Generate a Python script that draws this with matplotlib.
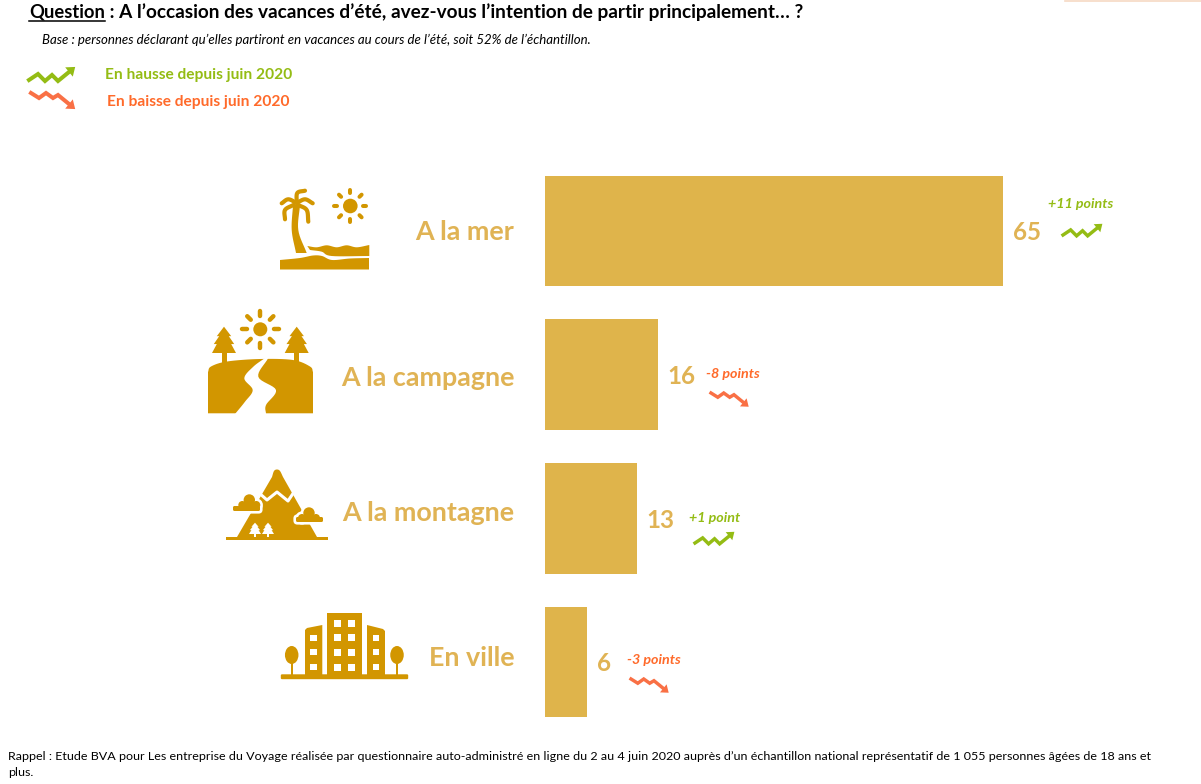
import numpy as np
import matplotlib
matplotlib.use("Agg")
import matplotlib.pyplot as plt
from matplotlib.patches import Polygon, Circle, Ellipse, Rectangle, FancyBboxPatch

# values
categories = ["A la mer", "A la campagne", "A la montagne", "En ville"]
values = [65, 16, 13, 6]
changes = ["+11 points", "-8 points", "+1 point", "-3 points"]
rising = [True, False, True, False]

BAR = "#DFB44B"
ICON = "#D29600"
LABEL = "#E0B354"
GREEN = "#94BC14"
ORANGE = "#FF6A2A"
ARROW_ORANGE = "#F97045"

plt.rcParams["font.family"] = ["Lato", "DejaVu Sans"]

W, H = 1201, 784
fig = plt.figure(figsize=(W / 100, H / 100), dpi=100)

# overlay in pixel coordinates for the text and pictograms
px = fig.add_axes([0, 0, 1, 1])
px.set_xlim(0, W)
px.set_ylim(H, 0)
px.axis("off")

# bars
top, step = 159.2, 143.67
ax = fig.add_axes([545 / W, 1 - (top + 4 * step) / H, (W - 545) / W, 4 * step / H])
ax.barh(range(4), values, height=0.77, color=BAR)
ax.set_xlim(0, (W - 545) / 7.04)
ax.set_ylim(3.5, -0.5)
ax.axis("off")
# the labels do not sit exactly on the bar centres in the original
label_dy = [1, 3, -5, -4]
for i, v in enumerate(values):
    ax.annotate(str(v), (v, i), xytext=(7.2, -1.3), textcoords="offset points",
                va="center", ha="left", fontsize=17.4, fontweight="bold", color=LABEL)
    ax.annotate(categories[i], (0, i), xytext=(-22, -label_dy[i] * 0.72), textcoords="offset points",
                va="center", ha="right", fontsize=19.4, fontweight="bold", color=LABEL,
                annotation_clip=False)


def smooth(pts, n=8, closed=False):
    # catmull-rom through the points, so the pictograms get round outlines
    p = np.array(pts, dtype=float)
    if closed:
        p = np.vstack([p[-1], p, p[0], p[1]])
    else:
        p = np.vstack([2 * p[0] - p[1], p, 2 * p[-1] - p[-2]])
    out = []
    for i in range(1, len(p) - 2):
        for t in np.linspace(0, 1, n, endpoint=False):
            out.append(0.5 * (2 * p[i] + (p[i + 1] - p[i - 1]) * t
                              + (2 * p[i - 1] - 5 * p[i] + 4 * p[i + 1] - p[i + 2]) * t ** 2
                              + (3 * p[i] - p[i - 1] - 3 * p[i + 1] + p[i + 2]) * t ** 3))
    out.append(p[-2])
    return np.array(out)


def zigzag(x, y, up=True, scale=1.0):
    # small trend arrow, x/y = left end of the line
    if up:
        pts = [(0, 0), (9, -6), (16, 1), (23, -5), (29, 1), (40, -8)]
        col = GREEN
    else:
        pts = [(0, 0), (8, 5), (15, 0), (22, 5), (27, 2), (38, 11)]
        col = ARROW_ORANGE
    pts = np.array(pts, dtype=float) * scale + (x, y)
    px.plot(pts[:, 0], pts[:, 1], color=col, lw=2.9 * scale, solid_joinstyle="miter")
    d = pts[-1] - pts[-2]
    d = d / np.hypot(*d)
    n = np.array([-d[1], d[0]])
    s = 7 * scale + 1
    tip = pts[-1] + d * s
    px.add_patch(Polygon([tip, pts[-1] + n * s * 0.75, pts[-1] - n * s * 0.75], color=col, lw=0))


# title block
px.text(29, 12, "Question", fontsize=13.2, fontweight="bold", color="black", va="center")
px.plot([29, 105], [20.5, 20.5], color="black", lw=1.1)
px.text(105, 12, " : A l\u2019occasion des vacances d\u2019\u00e9t\u00e9, avez-vous l\u2019intention de partir principalement\u2026 ?",
        fontsize=13.66, fontweight="bold", color="black", va="center")
px.text(42, 40, "Base : personnes d\u00e9clarant qu\u2019elles partiront en vacances au cours de l\u2019\u00e9t\u00e9, soit 52% de l\u2019\u00e9chantillon.",
        fontsize=9.55, style="italic", color="black", va="center")
px.text(105, 74.5, "En hausse depuis juin 2020", fontsize=11.2, fontweight="bold", color=GREEN, va="center")
px.text(107, 101.5, "En baisse depuis juin 2020", fontsize=11.2, fontweight="bold", color=ORANGE, va="center")
zigzag(29, 80, True, 1.0)
zigzag(31, 93, False, 1.0)

# change notes beside the bars
note_xy = [(1048, 204), (706, 374), (689, 518), (627, 660)]
arrow_xy = [(1063, 235), (711, 393), (695, 543), (631, 679)]
for i in range(4):
    c = GREEN if rising[i] else ORANGE
    px.text(note_xy[i][0], note_xy[i][1], changes[i], fontsize=10.3, fontweight="bold",
            style="italic", color=c, va="center")
    zigzag(arrow_xy[i][0], arrow_xy[i][1], rising[i], 0.85)

# footnote
px.text(8, 757, "Rappel : Etude BVA pour Les entreprise du Voyage r\u00e9alis\u00e9e par questionnaire auto-administr\u00e9 en ligne du 2 au 4 juin 2020 aupr\u00e8s d\u2019un \u00e9chantillon national repr\u00e9sentatif de 1 055 personnes \u00e2g\u00e9es de 18 ans et",
        fontsize=8.97, color="black", va="center")
px.text(8, 773, "plus.", fontsize=8.97, color="black", va="center")

# thin peach line at the top right edge
px.plot([1065, 1201], [0.5, 0.5], color="#F6D9C4", lw=1.2)


def sun(cx, cy, r, r1, r2, lw):
    px.add_patch(Circle((cx, cy), r, color=ICON, lw=0))
    for a in np.arange(8) * np.pi / 4:
        px.plot([cx + r1 * np.cos(a), cx + r2 * np.cos(a)], [cy + r1 * np.sin(a), cy + r2 * np.sin(a)],
                color=ICON, lw=lw, solid_capstyle="round")


def poly(pts, col=ICON):
    px.add_patch(Polygon(pts, closed=True, color=col, lw=0))


def fir(cx, top_y, bottom, half, col=ICON):
    h = bottom - top_y
    poly([(cx, top_y), (cx + half * 0.6, top_y + h * 0.36), (cx + half * 0.4, top_y + h * 0.36),
          (cx + half * 0.85, top_y + h * 0.66), (cx + half * 0.6, top_y + h * 0.66),
          (cx + half, top_y + h), (cx - half, top_y + h), (cx - half * 0.6, top_y + h * 0.66),
          (cx - half * 0.85, top_y + h * 0.66), (cx - half * 0.4, top_y + h * 0.36),
          (cx - half * 0.6, top_y + h * 0.36)], col)


def curve(pts, lw=3.0, col=ICON):
    c = smooth(pts)
    px.plot(c[:, 0], c[:, 1], color=col, lw=lw, solid_capstyle="round", solid_joinstyle="round")


def cloud(cx, bump_y, left, right, base_y):
    # white halo first, then the cloud
    for col, grow in (("white", 2.6), (ICON, 0)):
        px.add_patch(Circle((cx, bump_y), 5.7 + grow, color=col, lw=0))
        px.add_patch(Circle((cx - 7, bump_y + 5), 4 + grow, color=col, lw=0))
        px.add_patch(Circle((cx + 7, bump_y + 5), 4 + grow, color=col, lw=0))
        px.add_patch(Rectangle((cx - 7, bump_y + 2), 14, base_y - bump_y - 2, color=col, lw=0))
        px.add_patch(FancyBboxPatch((left + 1.5, base_y - 1), right - left - 3, 2,
                                    boxstyle="round,pad=%g" % (1.5 + grow), color=col, lw=0))


# palm and beach
left_edge = smooth([(293, 205), (291.7, 230), (296, 253)])
right_edge = smooth([(300, 205), (298.3, 230), (306.7, 253)])
poly(np.vstack([left_edge, right_edge[::-1]]))
curve([(296.7, 203), (297.3, 193), (305, 190.7)])
curve([(296.7, 203), (288.3, 199.3), (281.7, 203.3)])
curve([(296.7, 203), (305, 199.3), (312.7, 203.3)])
curve([(293.3, 205), (285, 210), (285, 219.3)])
curve([(298.3, 205), (306.7, 210), (308.3, 221.7)])
sun(350.3, 206, 7.3, 13, 16, 2.9)
sea_top = smooth([(307.3, 246), (316.7, 247.3), (326.7, 245.3), (336.7, 247.3), (346.7, 245.3),
                  (356.7, 247.3), (369.3, 245)])
sea_low = smooth([(369.3, 256), (331.7, 256), (321.7, 251.7), (310, 250)])
poly(np.vstack([sea_top, sea_low]))
land_top = smooth([(280, 260), (300, 258), (313, 255.5), (322, 256), (332, 260), (350, 258.5), (369, 258)])
poly(np.vstack([land_top, [(369, 269.5), (280, 269.5)]]))

# countryside
sun(260.3, 329.3, 7, 13.5, 18.5, 3.2)
for cx in (224, 296.7):
    px.add_patch(Rectangle((cx - 2.5, 350), 5, 14, color=ICON, lw=0))
    fir(cx, 326.7, 353, 12)
hill = smooth([(208, 372), (211, 366.5), (227, 361.5), (260, 359), (293, 360), (310, 366.5), (313, 372)])
poly(np.vstack([hill, [(313, 413.3), (208, 413.3)]]))
river_l = smooth([(265, 358), (253.3, 366.7), (244.3, 378.3), (252.7, 390), (245, 401.7), (235, 414)])
river_r = smooth([(266, 414), (266, 405), (276, 390), (258.3, 376.7), (268.3, 358)])
poly(np.vstack([river_l, river_r]), "white")

# mountain
peak_top = smooth([(272, 477), (274, 471), (277, 469.5), (280, 471), (283, 477)])
poly(np.vstack([[(237, 537)], peak_top, [(317, 537)]]))
px.add_patch(Rectangle((226, 537), 102, 3, color=ICON, lw=0))
px.plot([258, 267, 277, 288, 294], [492, 500, 492, 501, 492], color="white", lw=2.2)
cloud(249.3, 500, 233, 260, 508.5)
cloud(309, 513, 296, 323, 519.5)
for cx in (255, 268):
    px.add_patch(Rectangle((cx - 0.9, 531), 1.8, 6, color="white", lw=0))
    fir(cx, 522.7, 534, 6, "white")

# city
px.add_patch(FancyBboxPatch((282, 675.5), 125, 2.5, boxstyle="round,pad=1.2", color=ICON, lw=0))
px.add_patch(Rectangle((327.3, 612.7), 35, 63, color=ICON, lw=0))
poly([(305, 630), (307, 628), (322.3, 625), (322.3, 675), (305, 675)])
poly([(367, 625), (383, 629), (385, 631), (385, 675), (367, 675)])
for cx in (291.7, 397):
    px.add_patch(Ellipse((cx, 655), 13.5, 18, color=ICON, lw=0))
    px.add_patch(Rectangle((cx - 1, 658), 2, 18, color=ICON, lw=0))
for wy in (623, 637.7, 652, 667):
    for wx in (337.3, 351.7):
        px.add_patch(Rectangle((wx - 3.5, wy - 3.5), 7, 7, color="white", lw=0))
for wy in (637.7, 652, 667):
    for wx in (313.3, 376):
        px.add_patch(Rectangle((wx - 3.2, wy - 3.2), 6.4, 6.4, color="white", lw=0))

fig.savefig("out.png", dpi=100, facecolor="white")
